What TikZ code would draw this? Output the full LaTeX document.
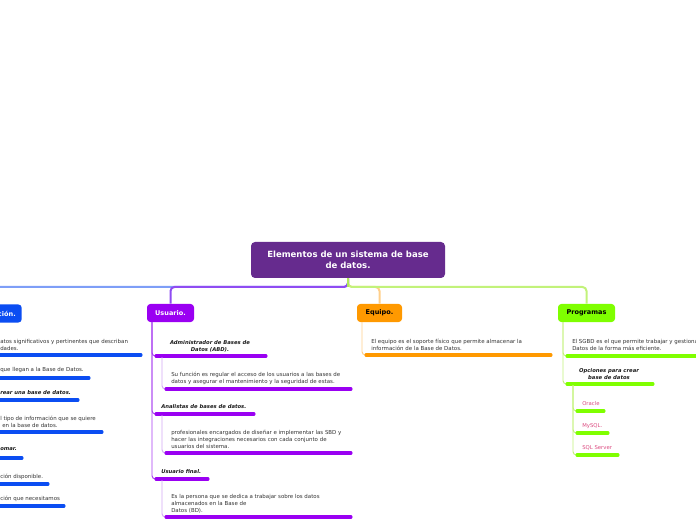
\documentclass[tikz,border=0pt]{standalone}
\usepackage{fontspec}
\setmainfont{DejaVu Sans}
\definecolor{rootc}{HTML}{662B8E}
\definecolor{infoc}{HTML}{0B4DF2}
\definecolor{infol}{HTML}{7E9EF7}
\definecolor{userc}{HTML}{9A00F2}
\definecolor{userl}{HTML}{8F4CF2}
\definecolor{userm}{HTML}{A63AF0}
\definecolor{userl2}{HTML}{D2A6F5}
\definecolor{equc}{HTML}{FF9900}
\definecolor{equl}{HTML}{FFCF8A}
\definecolor{progc}{HTML}{7FFF00}
\definecolor{progl}{HTML}{C2F27A}
\definecolor{progm}{HTML}{B2EA5A}
\definecolor{txtc}{HTML}{333333}
\definecolor{labc}{HTML}{1A1A1A}
\definecolor{leafc}{HTML}{DB4B80}
\begin{document}
\begin{tikzpicture}[x=0.75pt,y=-0.75pt,
  branch/.style={line width=1.5pt, rounded corners=3pt},
  sub/.style={line width=0.7pt, rounded corners=2.5pt},
  uline/.style={line width=2.3pt, line cap=round},
  boxn/.style={rounded corners=2.5pt, inner sep=0pt, minimum height=13.5pt, font=\fontsize{4.9}{6}\selectfont\bfseries},
  txt/.style={inner sep=0pt, align=left, anchor=north west, text=txtc, font=\fontsize{4.1}{5.4}\selectfont},
  lab/.style={inner sep=0pt, anchor=north west, text=labc, font=\fontsize{3.95}{5.4}\selectfont\bfseries\itshape},
  leaf/.style={inner sep=0pt, anchor=north west, text=leafc, font=\fontsize{4.0}{5.4}\selectfont}]
\useasboundingbox (0,0) rectangle (696,520);

% root
\node[rounded corners=3pt, fill=rootc, text=white, minimum width=145.5pt, minimum height=27pt, inner sep=0pt, align=center,
      font=\fontsize{6.4}{8.3}\selectfont\bfseries] (root) at (348,260) {Elementos de un sistema de base\\de datos.};

% main boxes
\node[boxn, fill=infoc, text=white, anchor=east, inner xsep=4.5pt] (info) at (22,313.5) {Información.};
\node[boxn, fill=userc, text=white, minimum width=35.25pt] (usr) at (170.5,313) {Usuario.};
\node[boxn, fill=equc, text=black, minimum width=33.75pt] (equ) at (379.5,313) {Equipo.};
\node[boxn, fill=progc, text=black, minimum width=42.75pt] (prog) at (586.5,313) {Programas};

% branches
\coordinate (j) at (348,287);
\draw[branch, infol] (root.south) -- (j) -| (info.north);
\draw[branch, userl] (root.south) -- (j) -| (usr.north);
\draw[branch, equl] (root.south) -- (j) -| (equ.north);
\draw[branch, progl] (root.south) -- (j) -| (prog.north);
\draw[line width=1.5pt, progm] (root.south) -- (j);

% ---------- Información column ----------
\node[txt] (i1) at (0,339) {atos significativos y pertinentes que describan\\dades.};
\draw[uline, infoc] (-10,355) -- (141,355);
\node[txt] (i2) at (0,367) {que llegan a la Base de Datos.};
\draw[uline, infoc] (-10,378) -- (89,378);
\node[lab] (i3) at (0,390) {rear una base de datos.};
\draw[uline, infoc] (-10,400) -- (78,400);
\node[txt] (i4) at (0,416) {l tipo de información que se quiere\\\hspace*{1.5pt}en la base de datos.};
\draw[uline, infoc] (-10,432) -- (102,432);
\node[lab] (i5) at (0,447) {omar.};
\draw[uline, infoc] (-10,458) -- (22,458);
\node[txt] (i6) at (0,474) {ción disponible.};
\draw[uline, infoc] (-10,484) -- (48,484);
\node[txt] (i7) at (0,496) {ción que necesitamos};
\draw[uline, infoc] (-10,506) -- (64,506);

% ---------- Usuario column ----------
\coordinate (usrL) at (152,322);
\coordinate (u1a) at (156,356); \coordinate (u1b) at (266,356);
\coordinate (u2a) at (156,414); \coordinate (u2b) at (254,414);
\coordinate (u3a) at (156,479); \coordinate (u3b) at (208,479);
\draw[sub, userm] (usrL) |- (u1a);
\draw[sub, userm] (usrL) |- (u2a);
\draw[sub, userm] (usrL) |- (u3a);

\node[lab, anchor=north, align=center] (ua) at (210,340) {Administrador de Bases de\\Datos (ABD).};
\draw[uline, userc] (u1a) -- (u1b);
\node[lab] (ub) at (161,404) {Analistas de bases de datos.};
\draw[uline, userc] (u2a) -- (u2b);
\node[lab] (uc) at (161,469) {Usuario final.};
\draw[uline, userc] (u3a) -- (u3b);

\coordinate (v1) at (162,357); \coordinate (v1a) at (166,389); \coordinate (v1b) at (351,389);
\coordinate (v2) at (162,415); \coordinate (v2a) at (166,453); \coordinate (v2b) at (351,453);
\coordinate (v3) at (162,480); \coordinate (v3a) at (166,517); \coordinate (v3b) at (351,517);
\draw[sub, userl2] (v1) |- (v1a);
\draw[sub, userl2] (v2) |- (v2a);
\draw[sub, userl2] (v3) |- (v3a);
\node[txt] (ta) at (171,372) {Su función es regular el acceso de los usuarios a las bases de\\datos y asegurar el mantenimiento y la seguridad de estas.};
\draw[uline, userc] (v1a) -- (v1b);
\node[txt] (tb) at (171,430) {profesionales encargados de diseñar e implementar las SBD y\\hacer las integraciones necesarios con cada conjunto de\\usuarios del sistema.};
\draw[uline, userc] (v2a) -- (v2b);
\node[txt] (tc) at (171,494) {Es la persona que se dedica a trabajar sobre los datos\\almacenados en la Base de\\Datos (BD).};
\draw[uline, userc] (v3a) -- (v3b);

% ---------- Equipo column ----------
\coordinate (equL) at (362,322);
\coordinate (e1a) at (366,355); \coordinate (e1b) at (551,355);
\draw[sub, equl] (equL) |- (e1a);
\node[txt] (te) at (371,339) {El equipo es el soporte físico que permite almacenar la\\información de la Base de Datos.};
\draw[uline, equc] (e1a) -- (e1b);

% ---------- Programas column ----------
\coordinate (progL) at (563,322);
\coordinate (p1a) at (567,356); \coordinate (p1b) at (710,356);
\coordinate (p2a) at (567,384); \coordinate (p2b) at (653,384);
\draw[sub, progl] (progL) |- (p1a);
\draw[sub, progl] (progL) |- (p2a);
\node[txt] (tp) at (572,339) {El SGBD es el que permite trabajar y gestionar las Bases de\\Datos de la forma más eficiente.};
\draw[uline, progc] (p1a) -- (p1b);
\node[lab, anchor=north, align=center] (po) at (609,368) {Opciones para crear\\base de datos};
\draw[uline, progc] (p2a) -- (p2b);

\coordinate (pL) at (573,385);
\coordinate (q1a) at (577,411); \coordinate (q1b) at (604,411);
\coordinate (q2a) at (577,433); \coordinate (q2b) at (608,433);
\coordinate (q3a) at (577,455); \coordinate (q3b) at (618,455);
\draw[sub, progl] (pL) |- (q1a);
\draw[sub, progl] (pL) |- (q2a);
\draw[sub, progl] (pL) |- (q3a);
\node[leaf] (l1) at (582,401) {Oracle};
\draw[uline, progc] (q1a) -- (q1b);
\node[leaf] (l2) at (582,423) {MySQL.};
\draw[uline, progc] (q2a) -- (q2b);
\node[leaf] (l3) at (582,445) {SQL Server};
\draw[uline, progc] (q3a) -- (q3b);
\end{tikzpicture}
\end{document}
